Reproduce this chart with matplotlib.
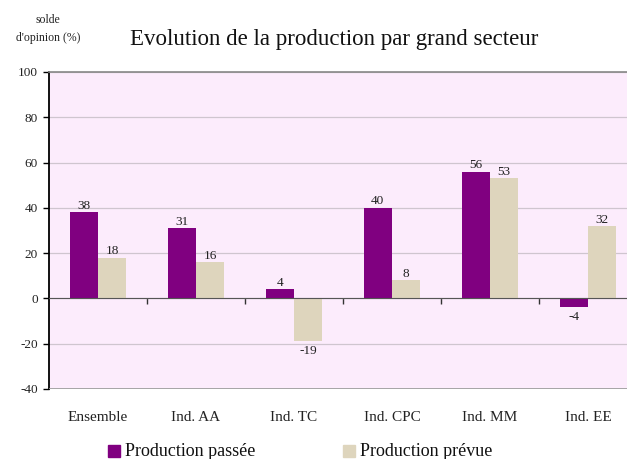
import matplotlib.pyplot as plt
import matplotlib.transforms as mtransforms
import numpy as np

categories = ["Ensemble", "Ind. AA", "Ind. TC", "Ind. CPC", "Ind. MM", "Ind. EE"]
passee = [38, 31, 4, 40, 56, -4]
prevue = [18, 16, -19, 8, 53, 32]
yticks = [-40, -20, 0, 20, 40, 60, 80, 100]

plt.rcParams['font.family'] = ['Liberation Serif', 'DejaVu Serif']

fig = plt.figure(figsize=(6.27, 4.59), dpi=100)
W, H = 627, 459
ax = fig.add_axes([49 / W, 1 - 389 / H, 588 / W, 317 / H])
ax.set_facecolor('#fcecfc')

x = np.arange(len(categories))
w = 0.29
ax.bar(x - w / 2, passee, w, color='#800080', zorder=3)
ax.bar(x + w / 2, prevue, w, color='#ded5bd', zorder=3)

for xs, vals in [(x - w / 2, passee), (x + w / 2, prevue)]:
    for xi, v in zip(xs, vals):
        ax.text(xi, v + (0.2 if v >= 0 else -1.5), str(v), ha='center',
                va='bottom' if v >= 0 else 'top', fontsize=9.5, color='#222222', zorder=4)

ax.set_xlim(-0.5, len(categories) - 0.5)
ax.set_ylim(-40, 100)
ax.set_yticks(yticks)
ax.set_yticklabels([str(t) for t in yticks], fontsize=9.5, color='#222222')
ax.yaxis.grid(True, color='#cfc5cf', linewidth=0.9, zorder=0)
ax.tick_params(axis='y', direction='out', length=4, width=1, pad=4)

# x axis line at zero with ticks between categories
ax.spines['bottom'].set_position(('data', 0))
ax.spines['bottom'].set_color('#555555')
ax.spines['bottom'].set_zorder(5)
ax.set_xticks(np.arange(0.5, len(categories) - 0.5, 1.0))
ax.set_xticklabels([])
ax.tick_params(axis='x', direction='out', length=4, width=1, color='#333333')
ax.axhline(-40, color='#999999', linewidth=1.2, zorder=5)
ax.spines['top'].set_color('#888888')
ax.spines['top'].set_linewidth(1.2)
ax.spines['right'].set_visible(False)
ax.spines['left'].set_linewidth(1.3)

trans = mtransforms.blended_transform_factory(ax.transData, ax.transAxes)
for xi, c in zip(x, categories):
    ax.text(xi, -0.09, c, transform=trans, ha='center', va='center', fontsize=11, color='#222222')

fig.text(334 / W, 1 - 40 / H, "Evolution de la production par grand secteur",
         ha='center', va='center', fontsize=16.5, color='#111111')
fig.text(48 / W, 1 - 20 / H, "solde", ha='center', va='center', fontsize=8.5, color='#222222')
fig.text(48 / W, 1 - 38 / H, "d'opinion (%)", ha='center', va='center', fontsize=8.5, color='#222222')

# legend
for lx, lab, col in [(108, "Production passée", '#800080'), (343, "Production prévue", '#ded5bd')]:
    fig.patches.append(plt.Rectangle((lx / W, 1 - 457 / H), 12 / W, 12 / H, color=col,
                                     transform=fig.transFigure, figure=fig))
    fig.text((lx + 17) / W, 1 - 451 / H, lab, ha='left', va='center', fontsize=13, color='#111111')

fig.savefig('out.png', dpi=100)
